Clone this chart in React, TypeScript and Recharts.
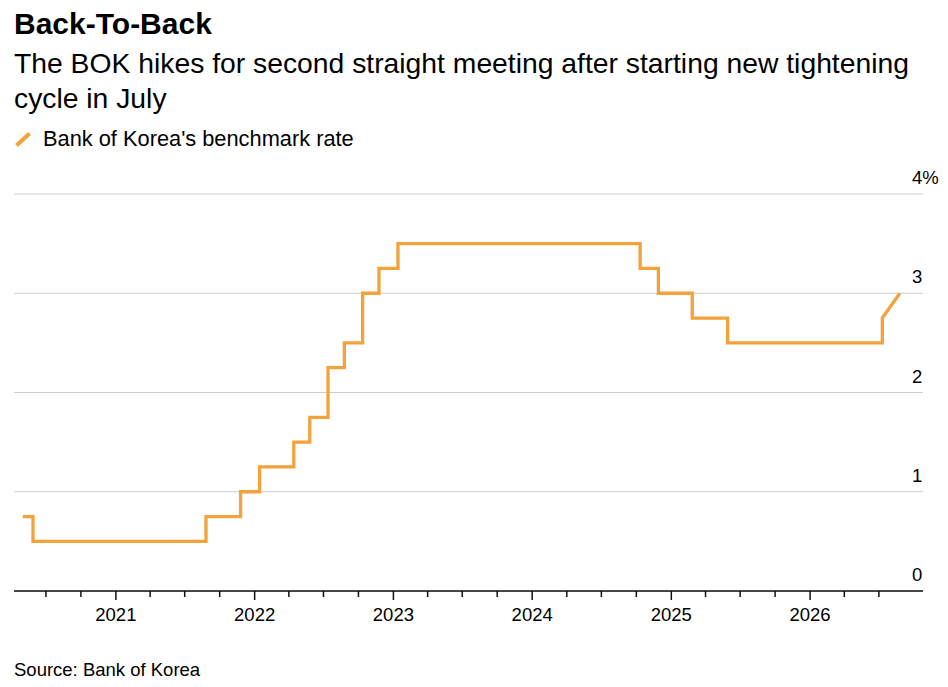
import React from 'react';
import { LineChart, Line, XAxis, YAxis, CartesianGrid } from 'recharts';

const decisionDates = [
  '2020-05-01', '2020-05-28', '2021-08-26', '2021-11-25', '2022-01-14', '2022-04-14',
  '2022-05-26', '2022-07-13', '2022-08-25', '2022-10-12', '2022-11-24', '2023-01-13',
  '2024-10-11', '2024-11-28', '2025-02-25', '2025-05-29', '2026-07-10',
];
const decisionRates = [
  0.75, 0.5, 0.75, 1.0, 1.25, 1.5,
  1.75, 2.25, 2.5, 3.0, 3.25, 3.5,
  3.25, 3.0, 2.75, 2.5, 2.75,
];
const finalDate = '2026-08-25';
const finalRate = 3.0;

const quarterTicks = [
  '2020-07-01', '2020-10-01',
  '2021-01-01', '2021-04-01', '2021-07-01', '2021-10-01',
  '2022-01-01', '2022-04-01', '2022-07-01', '2022-10-01',
  '2023-01-01', '2023-04-01', '2023-07-01', '2023-10-01',
  '2024-01-01', '2024-04-01', '2024-07-01', '2024-10-01',
  '2025-01-01', '2025-04-01', '2025-07-01', '2025-10-01',
  '2026-01-01', '2026-04-01', '2026-07-01',
];
const yTicks = [0, 1, 2, 3, 4];
const yTickLabels = ['0', '1', '2', '3', '4%'];
const domainStart = '2020-04-08';
const domainEnd = '2026-10-25';

const ts = (s: string) => Date.parse(s + 'T00:00:00Z');

// build step table from decisions
const data: { t: number; rate: number }[] = [];
decisionDates.forEach((d, i) => {
  if (i > 0) data.push({ t: ts(d), rate: decisionRates[i - 1] });
  data.push({ t: ts(d), rate: decisionRates[i] });
});
data.push({ t: ts(finalDate), rate: finalRate });

const FONT = '"Liberation Sans", Arial, Helvetica, sans-serif';
const ORANGE = '#f4a23b';
const W = 948;
const H = 687;
const Y_AXIS_W = 1;
const MARGIN = { top: 194, right: 25 - Y_AXIS_W, bottom: 56, left: 14 };
const X_AXIS_H = 40;

const XTick = (props: any) => {
  const { x, y, payload } = props;
  const d = new Date(payload.value);
  const major = d.getUTCMonth() === 0;
  return (
    <g>
      <line x1={x} x2={x} y1={y} y2={y + (major ? 9 : 6)} stroke="#111" strokeWidth={1.5} />
      {major && (
        <text x={x} y={y + 30} textAnchor="middle" fontFamily={FONT} fontSize={18.5} fill="#000">
          {d.getUTCFullYear()}
        </text>
      )}
    </g>
  );
};

const YTick = (props: any) => {
  const { x, y, payload } = props;
  const idx = yTicks.indexOf(payload.value);
  return (
    <text x={x - 11} y={y - 10} textAnchor="start" fontFamily={FONT} fontSize={18.5} fill="#000">
      {yTickLabels[idx]}
    </text>
  );
};

export default function App() {
  return (
    <div style={{ position: 'absolute', left: 0, top: 0, width: W, height: H, background: '#fff' }}>
      <svg
        width={W}
        height={H}
        style={{ position: 'absolute', left: 0, top: 0, pointerEvents: 'none' }}
      >
        <text x={14} y={34} fontFamily={FONT} fontWeight={700} fontSize={30} fill="#000">
          Back-To-Back
        </text>
        <text x={14} y={73} fontFamily={FONT} fontSize={28.3} fill="#000">
          The BOK hikes for second straight meeting after starting new tightening
        </text>
        <text x={14} y={108} fontFamily={FONT} fontSize={28.3} fill="#000">
          cycle in July
        </text>
        <line x1={16.5} y1={145.5} x2={29.5} y2={133.5} stroke={ORANGE} strokeWidth={4} />
        <text x={43} y={146} fontFamily={FONT} fontSize={21.8} fill="#000">
          Bank of Korea's benchmark rate
        </text>
        <text x={14} y={676} fontFamily={FONT} fontSize={18.5} fill="#000">
          Source: Bank of Korea
        </text>
      </svg>
      <div style={{ position: 'absolute', left: 0, top: 0 }}>
        <LineChart width={W} height={H} data={data} margin={MARGIN}>
          <CartesianGrid horizontal vertical={false} stroke="#cccccc" strokeWidth={1} />
          <XAxis
            dataKey="t"
            type="number"
            domain={[ts(domainStart), ts(domainEnd)]}
            allowDataOverflow
            ticks={quarterTicks.map(ts)}
            interval={0}
            tickSize={0}
            tickMargin={0}
            tickLine={false}
            axisLine={{ stroke: '#111', strokeWidth: 1.5 }}
            tick={<XTick />}
            height={X_AXIS_H}
          />
          <YAxis
            orientation="right"
            type="number"
            domain={[0, 4]}
            ticks={yTicks}
            interval={0}
            width={Y_AXIS_W}
            tickSize={0}
            tickMargin={0}
            axisLine={false}
            tickLine={false}
            tick={<YTick />}
          />
          <Line
            type="linear"
            dataKey="rate"
            stroke={ORANGE}
            strokeWidth={3.3}
            dot={false}
            activeDot={false}
            isAnimationActive={false}
          />
        </LineChart>
      </div>
    </div>
  );
}
